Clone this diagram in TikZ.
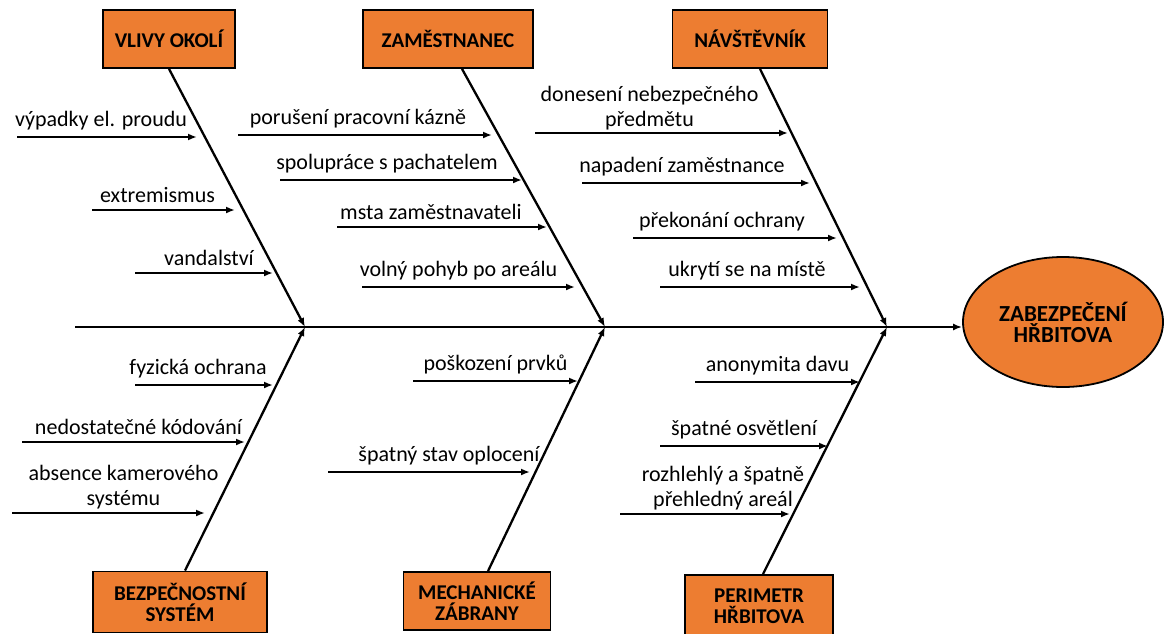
\documentclass[tikz,border=0pt]{standalone}
\usepackage{fontspec}
\setmainfont{Carlito}
\usetikzlibrary{arrows.meta,shapes.geometric}
\definecolor{catorange}{HTML}{ED7D31}
\tikzset{
	cat/.style={draw=black,fill=catorange,line width=1.8pt,font=\fontsize{21}{21}\selectfont\bfseries,align=center,inner sep=0pt,minimum height=58pt},
	bone/.style={line width=2.3pt,-{Latex[length=9pt,width=7pt]}},
	cause/.style={line width=2.1pt,-{Latex[length=9pt,width=7pt]}},
	why/.style={font=\fontsize{22}{25}\selectfont,align=center,inner sep=6pt}
}
\begin{document}
\begin{tikzpicture}[x=1pt,y=-1pt,auto]
				\useasboundingbox (0,0) rectangle (1167,634);
				% effect and spine
				\node[ellipse,draw=black,fill=catorange,line width=1.8pt,minimum width=200pt,minimum height=130pt,align=center,font=\fontsize{23}{21}\selectfont\bfseries] (eff) at (1063,322) {ZABEZPEČENÍ\\HŘBITOVA};
				\coordinate (tail) at (75,327);
				\coordinate (j1) at (305,327);
				\coordinate (j2) at (605,327);
				\coordinate (j3) at (887,327);
				\draw[bone] (tail) to (eff.west |- tail);
				% categories
				\node[cat,minimum width=132pt] (vlivy) at (169,39) {VLIVY OKOLÍ};
				\node[cat,minimum width=170pt] (zam) at (448,39) {ZAMĚSTNANEC};
				\node[cat,minimum width=155pt] (nav) at (750,39) {NÁVŠTĚVNÍK};
				\node[cat,minimum width=174pt,minimum height=61pt] (bezp) at (180,602) {BEZPEČNOSTNÍ\\SYSTÉM};
				\node[cat,minimum width=147pt] (mech) at (477,601) {MECHANICKÉ\\ZÁBRANY};
				\node[cat,minimum width=148pt,minimum height=62pt] (perim) at (759,606) {PERIMETR\\HŘBITOVA};
				\draw[bone] (vlivy.south) to (j1);
				\draw[bone] ([xshift=14pt]zam.south) to (j2);
				\draw[bone] ([xshift=10pt]nav.south) to (j3);
				\draw[bone] ([xshift=5pt]bezp.north) to (j1);
				\draw[bone] ([xshift=11pt]mech.north) to (j2);
				\draw[bone] ([xshift=4pt]perim.north) to (j3);
				% causes, top
				\coordinate (a1s) at (17,137);  \coordinate (a1e) at (197,137);
				\coordinate (a2s) at (92,210);  \coordinate (a2e) at (235,210);
				\coordinate (a3s) at (135,273); \coordinate (a3e) at (273,273);
				\coordinate (b1s) at (238,135); \coordinate (b1e) at (492,135);
				\coordinate (b2s) at (280,180); \coordinate (b2e) at (522,180);
				\coordinate (b3s) at (337,227); \coordinate (b3e) at (547,227);
				\coordinate (b4s) at (362,287); \coordinate (b4e) at (575,287);
				\coordinate (c1s) at (535,133); \coordinate (c1e) at (788,133);
				\coordinate (c2s) at (582,183); \coordinate (c2e) at (810,183);
				\coordinate (c3s) at (633,238); \coordinate (c3e) at (837,238);
				\coordinate (c4s) at (660,287); \coordinate (c4e) at (860,287);
				\draw[cause] (a1s) to node[why,xshift=-6pt] (a1) {výpadky el. proudu} (a1e);
				\draw[cause] (a2s) to node[why,xshift=-6pt] (a2) {extremismus} (a2e);
				\draw[cause] (a3s) to node[why,xshift=5pt] (a3) {vandalství} (a3e);
				\draw[cause] (b1s) to node[why,xshift=-7pt] (b1) {porušení pracovní kázně} (b1e);
				\draw[cause] (b2s) to node[why,xshift=-14pt] (b2) {spolupráce s pachatelem} (b2e);
				\draw[cause] (b3s) to node[why,xshift=-11pt] (b3) {msta zaměstnavateli} (b3e);
				\draw[cause] (b4s) to node[why,xshift=-10pt] (b4) {volný pohyb po areálu} (b4e);
				\draw[cause] (c1s) to node[why,xshift=-12pt,yshift=-4pt] (c1) {donesení nebezpečného\\předmětu} (c1e);
				\draw[cause] (c2s) to node[why,xshift=-14pt] (c2) {napadení zaměstnance} (c2e);
				\draw[cause] (c3s) to node[why,xshift=-13pt] (c3) {překonání ochrany} (c3e);
				\draw[cause] (c4s) to node[why,xshift=-13pt] (c4) {ukrytí se na místě} (c4e);
				% causes, bottom
				\coordinate (d1s) at (135,385); \coordinate (d1e) at (273,385);
				\coordinate (d2s) at (22,442);  \coordinate (d2e) at (245,442);
				\coordinate (d3s) at (12,513);  \coordinate (d3e) at (205,513);
				\coordinate (e1s) at (413,381); \coordinate (e1e) at (578,381);
				\coordinate (e2s) at (328,472); \coordinate (e2e) at (530,472);
				\coordinate (f1s) at (695,382); \coordinate (f1e) at (860,382);
				\coordinate (f2s) at (660,446); \coordinate (f2e) at (828,446);
				\coordinate (f3s) at (620,514); \coordinate (f3e) at (790,514);
				\draw[cause] (d1s) to node[why,xshift=-6pt] (d1) {fyzická ochrana} (d1e);
				\draw[cause] (d2s) to node[why,xshift=5pt] (d2) {nedostatečné kódování} (d2e);
				\draw[cause] (d3s) to node[why,xshift=15pt,yshift=-3pt] (d3) {absence kamerového\\systému} (d3e);
				\draw[cause] (e1s) to node[why] (e1) {poškození prvků} (e1e);
				\draw[cause] (e2s) to node[why,xshift=20pt] (e2) {špatný stav oplocení} (e2e);
				\draw[cause] (f1s) to node[why] (f1) {anonymita davu} (f1e);
				\draw[cause] (f2s) to node[why] (f2) {špatné osvětlení} (f2e);
				\draw[cause] (f3s) to node[why,xshift=18pt,yshift=-3pt] (f3) {rozhlehlý a špatně\\přehledný areál} (f3e);
			\end{tikzpicture}
\end{document}
